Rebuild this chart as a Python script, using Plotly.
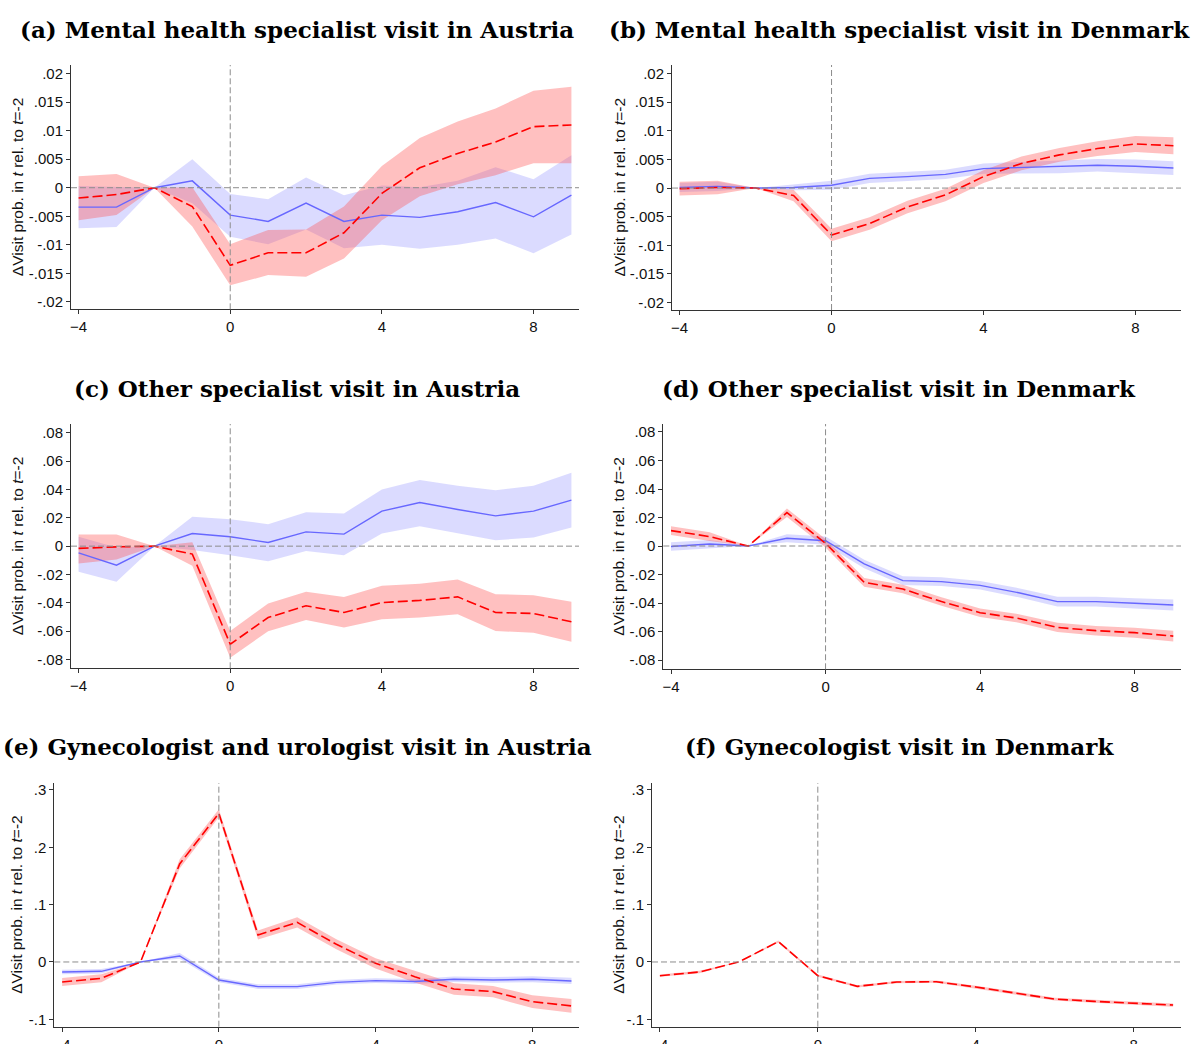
import plotly.graph_objects as go

# event time relative to treatment
t = [-4, -3, -2, -1, 0, 1, 2, 3, 4, 5, 6, 7, 8, 9]

# (a) mental health specialist, Austria
a_red = [-0.0018, -0.0012, 0, -0.0033, -0.0136, -0.0114, -0.0114, -0.0079, -0.0010, 0.0035, 0.0060, 0.0080, 0.0107, 0.0110]
a_red_lo = [-0.0057, -0.0048, 0, -0.0068, -0.0171, -0.0153, -0.0156, -0.0124, -0.0057, -0.0015, 0.0006, 0.0022, 0.0043, 0.0043]
a_red_hi = [0.0020, 0.0024, 0, 0.0001, -0.0099, -0.0074, -0.0073, -0.0033, 0.0038, 0.0087, 0.0116, 0.0139, 0.0170, 0.0177]
a_blue = [-0.0034, -0.0034, 0, 0.0012, -0.0048, -0.0059, -0.0027, -0.0059, -0.0048, -0.0052, -0.0042, -0.0026, -0.0051, -0.0013]
a_blue_lo = [-0.0071, -0.0069, 0, -0.0027, -0.0086, -0.0099, -0.0073, -0.0106, -0.0100, -0.0107, -0.0100, -0.0089, -0.0115, -0.0082]
a_blue_hi = [0.0003, 0.0001, 0, 0.0050, -0.0011, -0.0020, 0.0018, -0.0013, 0.0004, 0.0001, 0.0012, 0.0036, 0.0015, 0.0057]

# (b) mental health specialist, Denmark
b_red = [-0.0001, 0.0001, 0, -0.0013, -0.0082, -0.0062, -0.0033, -0.0012, 0.0020, 0.0043, 0.0058, 0.0069, 0.0077, 0.0074]
b_red_lo = [-0.0013, -0.0011, 0, -0.0023, -0.0093, -0.0073, -0.0044, -0.0023, 0.0009, 0.0031, 0.0046, 0.0056, 0.0063, 0.0059]
b_red_hi = [0.0011, 0.0013, 0, -0.0003, -0.0071, -0.0051, -0.0022, -0.0001, 0.0031, 0.0055, 0.0070, 0.0082, 0.0091, 0.0089]
b_blue = [0.0001, 0.0003, 0, 0.0001, 0.0005, 0.0017, 0.0020, 0.0024, 0.0034, 0.0036, 0.0037, 0.0040, 0.0038, 0.0035]
b_blue_lo = [-0.0007, -0.0005, 0, -0.0004, -0.0003, 0.0009, 0.0012, 0.0016, 0.0025, 0.0026, 0.0026, 0.0029, 0.0026, 0.0023]
b_blue_hi = [0.0009, 0.0011, 0, 0.0006, 0.0013, 0.0025, 0.0028, 0.0032, 0.0043, 0.0046, 0.0048, 0.0051, 0.0050, 0.0047]

# (c) other specialist, Austria
c_red = [-0.0016, -0.0005, 0, -0.0056, -0.0692, -0.0504, -0.0421, -0.0468, -0.0398, -0.0383, -0.0358, -0.0468, -0.0475, -0.0534]
c_red_lo = [-0.0122, -0.0095, 0, -0.0139, -0.0788, -0.0600, -0.0522, -0.0574, -0.0515, -0.0503, -0.0480, -0.0598, -0.0612, -0.0675]
c_red_hi = [0.0082, 0.0082, 0, 0.0028, -0.0598, -0.0405, -0.0322, -0.0358, -0.0280, -0.0266, -0.0235, -0.0339, -0.0346, -0.0393]
c_blue = [-0.0047, -0.0134, 0, 0.0089, 0.0066, 0.0026, 0.0101, 0.0085, 0.0247, 0.0308, 0.0259, 0.0214, 0.0247, 0.0325]
c_blue_lo = [-0.0181, -0.0252, 0, -0.0028, -0.0064, -0.0106, -0.0035, -0.0064, 0.0089, 0.0141, 0.0089, 0.0042, 0.0061, 0.0132]
c_blue_hi = [0.0066, -0.0010, 0, 0.0207, 0.0190, 0.0155, 0.0240, 0.0231, 0.0400, 0.0466, 0.0426, 0.0395, 0.0426, 0.0518]

# (d) other specialist, Denmark
d_red = [0.0108, 0.0066, 0, 0.0234, 0.0019, -0.0255, -0.0302, -0.0390, -0.0468, -0.0508, -0.0571, -0.0594, -0.0608, -0.0632]
d_red_lo = [0.0078, 0.0036, 0, 0.0204, -0.0011, -0.0285, -0.0332, -0.0420, -0.0498, -0.0538, -0.0603, -0.0627, -0.0643, -0.0670]
d_red_hi = [0.0138, 0.0096, 0, 0.0264, 0.0049, -0.0225, -0.0272, -0.0360, -0.0438, -0.0478, -0.0539, -0.0561, -0.0573, -0.0594]
d_blue = [-0.0003, 0.0014, 0, 0.0054, 0.0037, -0.0126, -0.0243, -0.0250, -0.0276, -0.0328, -0.0390, -0.0390, -0.0402, -0.0414]
d_blue_lo = [-0.0033, -0.0014, 0, 0.0026, 0.0008, -0.0156, -0.0273, -0.0280, -0.0306, -0.0360, -0.0424, -0.0424, -0.0437, -0.0452]
d_blue_hi = [0.0027, 0.0042, 0, 0.0082, 0.0066, -0.0096, -0.0213, -0.0220, -0.0246, -0.0296, -0.0356, -0.0356, -0.0367, -0.0376]

# (e) gynecologist and urologist, Austria
e_red = [-0.0349, -0.0285, 0, 0.171, 0.2593, 0.047, 0.069, 0.0308, -0.0023, -0.0256, -0.0471, -0.0517, -0.0692, -0.0767]
e_red_lo = [-0.0419, -0.0355, 0, 0.163, 0.2523, 0.039, 0.060, 0.022, -0.0113, -0.0356, -0.0571, -0.0617, -0.0802, -0.0887]
e_red_hi = [-0.0279, -0.0215, 0, 0.179, 0.2663, 0.055, 0.078, 0.0396, 0.0067, -0.0156, -0.0371, -0.0417, -0.0582, -0.0647]
e_blue = [-0.0174, -0.0163, 0, 0.0105, -0.0314, -0.0430, -0.0430, -0.0355, -0.0326, -0.0340, -0.0302, -0.0314, -0.0302, -0.0331]
e_blue_lo = [-0.0214, -0.0203, 0, 0.0055, -0.0354, -0.0470, -0.0470, -0.0395, -0.0368, -0.0385, -0.0350, -0.0364, -0.0354, -0.0386]
e_blue_hi = [-0.0134, -0.0123, 0, 0.0155, -0.0274, -0.0390, -0.0390, -0.0315, -0.0284, -0.0295, -0.0254, -0.0264, -0.0250, -0.0276]

# (f) gynecologist, Denmark (no blue series)
f_red = [-0.0239, -0.0175, 0, 0.0355, -0.0239, -0.0425, -0.0350, -0.0344, -0.0437, -0.0548, -0.0647, -0.0687, -0.0722, -0.0751]
f_red_lo = [-0.0259, -0.0195, 0, 0.0335, -0.0259, -0.0445, -0.0370, -0.0364, -0.0459, -0.0572, -0.0672, -0.0713, -0.0749, -0.0779]
f_red_hi = [-0.0219, -0.0155, 0, 0.0375, -0.0219, -0.0405, -0.0330, -0.0324, -0.0415, -0.0524, -0.0622, -0.0661, -0.0695, -0.0723]

titles = [
    "(a) Mental health specialist visit in Austria",
    "(b) Mental health specialist visit in Denmark",
    "(c) Other specialist visit in Austria",
    "(d) Other specialist visit in Denmark",
    "(e) Gynecologist and urologist visit in Austria",
    "(f) Gynecologist visit in Denmark",
]

x_ticks = [-4, 0, 4, 8]
y_ticks_small = [0.02, 0.015, 0.01, 0.005, 0, -0.005, -0.01, -0.015, -0.02]
y_text_small = [".02", ".015", ".01", ".005", "0", "-.005", "-.01", "-.015", "-.02"]
y_ticks_mid = [0.08, 0.06, 0.04, 0.02, 0, -0.02, -0.04, -0.06, -0.08]
y_text_mid = [".08", ".06", ".04", ".02", "0", "-.02", "-.04", "-.06", "-.08"]
y_ticks_big = [0.3, 0.2, 0.1, 0, -0.1]
y_text_big = [".3", ".2", ".1", "0", "-.1"]

W, H = 1192, 1044
RED = "#ff0000"
BLUE = "#6767ff"
RED_BAND = "rgba(255, 80, 80, 0.36)"
BLUE_BAND = "rgba(110, 110, 255, 0.25)"
AXIS_COLOR = "#333333"
REF_COLOR = "#8c8c8c"
SANS = "Liberation Sans, Arial, sans-serif"

# plot areas in pixels: (left, right, top, bottom)
panels = [
    dict(box=(71, 579, 65, 309.3), yr=(-0.0213, 0.0215), ticks=(y_ticks_small, y_text_small),
         red=(a_red, a_red_lo, a_red_hi), blue=(a_blue, a_blue_lo, a_blue_hi)),
    dict(box=(672, 1181, 65, 310), yr=(-0.0213, 0.0215), ticks=(y_ticks_small, y_text_small),
         red=(b_red, b_red_lo, b_red_hi), blue=(b_blue, b_blue_lo, b_blue_hi)),
    dict(box=(71, 579, 424, 668.3), yr=(-0.0862, 0.0862), ticks=(y_ticks_mid, y_text_mid),
         red=(c_red, c_red_lo, c_red_hi), blue=(c_blue, c_blue_lo, c_blue_hi)),
    dict(box=(663.3, 1181, 424, 669.3), yr=(-0.0865, 0.0856), ticks=(y_ticks_mid, y_text_mid),
         red=(d_red, d_red_lo, d_red_hi), blue=(d_blue, d_blue_lo, d_blue_hi)),
    dict(box=(54.3, 579.3, 783, 1026.7), yr=(-0.1129, 0.3122), ticks=(y_ticks_big, y_text_big),
         red=(e_red, e_red_lo, e_red_hi), blue=(e_blue, e_blue_lo, e_blue_hi)),
    dict(box=(652, 1181, 783, 1026.7), yr=(-0.1129, 0.3122), ticks=(y_ticks_big, y_text_big),
         red=(f_red, f_red_lo, f_red_hi), blue=None),
]
title_y = [29, 29, 388, 388, 746, 746]


def band(x, lo, hi, color, xa, ya):
    return go.Scatter(x=x + x[::-1], y=hi + lo[::-1], fill="toself", fillcolor=color,
                      line=dict(width=0), mode="lines", hoverinfo="skip",
                      showlegend=False, xaxis=xa, yaxis=ya)


fig = go.Figure()
annotations = []
shapes = []
layout_axes = {}

for i, p in enumerate(panels):
    n = i + 1
    key = "" if n == 1 else str(n)
    xa, ya = f"x{key}", f"y{key}"
    left, right, top, bottom = p["box"]

    if p["blue"] is not None:
        fig.add_trace(band(t, p["blue"][1], p["blue"][2], BLUE_BAND, xa, ya))
    fig.add_trace(band(t, p["red"][1], p["red"][2], RED_BAND, xa, ya))
    if p["blue"] is not None:
        fig.add_trace(go.Scatter(x=t, y=p["blue"][0], mode="lines", line=dict(color=BLUE, width=1.4),
                                 showlegend=False, xaxis=xa, yaxis=ya))
    fig.add_trace(go.Scatter(x=t, y=p["red"][0], mode="lines",
                             line=dict(color=RED, width=1.6, dash="10px,4px"),
                             showlegend=False, xaxis=xa, yaxis=ya))

    # automargin off: the bottom row's tick labels run past the page edge, as in the original
    axis_common = dict(showgrid=False, zeroline=False, showline=True, linecolor=AXIS_COLOR,
                       linewidth=1, ticks="outside", ticklen=4, tickcolor=AXIS_COLOR,
                       tickfont=dict(family=SANS, size=15, color="#111111"),
                       fixedrange=True, automargin=False)
    layout_axes[f"xaxis{key}"] = dict(axis_common, domain=[left / W, right / W], range=[-4.2, 9.2],
                                      tickvals=x_ticks, anchor=ya)
    layout_axes[f"yaxis{key}"] = dict(axis_common, domain=[1 - bottom / H, 1 - top / H], range=list(p["yr"]),
                                      tickvals=p["ticks"][0], ticktext=p["ticks"][1], anchor=xa,
                                      ticklabelstandoff=0)

    # reference lines at t=0 and zero change
    shapes.append(dict(type="line", xref=xa, yref=f"{ya} domain", x0=0, x1=0, y0=0, y1=1,
                       line=dict(color=REF_COLOR, width=1, dash="6px,3px")))
    shapes.append(dict(type="line", xref=f"{xa} domain", yref=ya, x0=0, x1=1, y0=0, y1=0,
                       line=dict(color=REF_COLOR, width=1, dash="6px,3px")))

    annotations.append(dict(text=f"<b>{titles[i]}</b>", xref="paper", yref="paper",
                            x=(297 if n % 2 else 899) / W, y=1 - title_y[i] / H,
                            xanchor="center", yanchor="middle", showarrow=False,
                            font=dict(family="DejaVu Serif, serif", size=23, color="#000000")))
    annotations.append(dict(text="ΔVisit prob. in <i>t</i> rel. to <i>t</i>=-2", xref="paper", yref="paper",
                            x=(17 if n % 2 else 619) / W, y=1 - (top + bottom) / 2 / H, textangle=-90,
                            xanchor="center", yanchor="middle", showarrow=False,
                            font=dict(family=SANS, size=15.5, color="#111111")))

fig.update_layout(
    width=W, height=H,
    margin=dict(l=0, r=0, t=0, b=0, autoexpand=False),
    paper_bgcolor="white", plot_bgcolor="white",
    showlegend=False,
    annotations=annotations,
    shapes=shapes,
    **layout_axes,
)

# pin the figure to the window corner so page margins / stray whitespace don't push it around
pin_js = """
var gd = document.getElementById('{plot_id}');
document.body.style.margin = '0';
document.documentElement.style.overflow = 'hidden';
gd.style.position = 'absolute';
gd.style.top = '0px';
gd.style.left = '0px';
"""
fig.write_html("out.html", config={"displayModeBar": False}, post_script=pin_js)
